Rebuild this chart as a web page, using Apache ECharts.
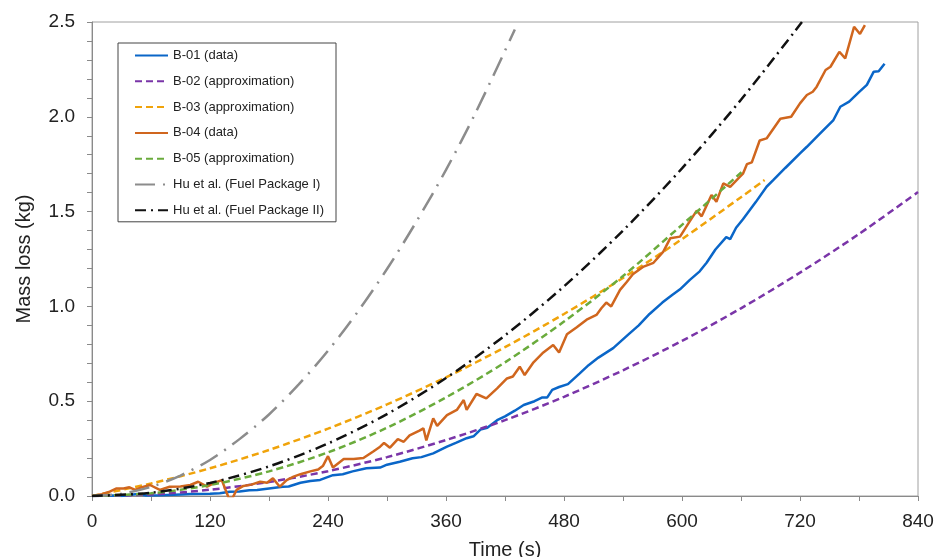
<!DOCTYPE html>
<html lang="en">
<head>
    <meta charset="UTF-8">
    <title>Mass loss</title>
    <style type="text/css">
        html, body { margin: 0; padding: 0; background: #fff; }
        #chart { width: 936px; height: 557px; }
    </style>
    <script src="https://cdn.jsdelivr.net/npm/echarts@6/dist/echarts.min.js"></script>
</head>
<body>
<div id="chart"></div>
<script type="application/javascript">
    // [time (s), mass loss (kg)]
    var b01 = [[0,0],[20,0.002],[30,0],[40,0.006],[46,0.01],[55,0.003],[70,0.004],[90,0.008],[100,0.01],
        [120,0.012],[130,0.015],[140,0.022],[150,0.024],[160,0.03],[168,0.032],[180,0.04],[194,0.049],
        [200,0.05],[212,0.07],[222,0.079],[232,0.085],[245,0.11],[255,0.115],[265,0.13],[279,0.146],
        [293,0.15],[300,0.165],[313,0.181],[326,0.199],[335,0.205],[347,0.225],[361,0.26],[370,0.28],
        [381,0.305],[388,0.315],[395,0.35],[402,0.36],[412,0.4],[420,0.42],[430,0.45],[439,0.48],
        [450,0.5],[458,0.52],[463,0.52],[468,0.56],[475,0.575],[484,0.59],[496,0.647],[505,0.69],
        [515,0.73],[530,0.78],[545,0.85],[556,0.9],[567,0.96],[580,1.02],[590,1.06],[598,1.09],
        [608,1.14],[618,1.185],[625,1.23],[634,1.3],[645,1.365],[649,1.355],[655,1.415],[662,1.46],
        [675,1.55],[686,1.631],[693,1.667],[705,1.73],[720,1.807],[727,1.842],[740,1.91],[754,1.983],
        [761,2.053],[770,2.08],[780,2.13],[788,2.168],[795,2.238],[800,2.24],[806,2.28]];

    var b02 = [[0,0],[60,0.008],[120,0.033],[180,0.074],[240,0.131],[300,0.205],[360,0.295],[420,0.4],
        [480,0.523],[540,0.663],[600,0.818],[660,0.99],[720,1.178],[780,1.382],[840,1.603]];

    var b03 = [[0,0],[60,0.066],[120,0.146],[180,0.243],[240,0.355],[300,0.483],[360,0.626],[420,0.785],
        [480,0.96],[540,1.15],[600,1.355],[660,1.576],[684,1.667]];

    var b04 = [[0,0],[10,0.01],[18,0.023],[25,0.04],[32,0.04],[38,0.046],[44,0.032],[50,0.045],[59,0.058],
        [69,0.032],[79,0.049],[90,0.05],[100,0.058],[108,0.075],[117,0.049],[125,0.07],[132,0.084],
        [136,0.03],[139,-0.01],[143,-0.01],[147,0.032],[154,0.053],[162,0.06],[171,0.075],[178,0.07],
        [184,0.093],[191,0.049],[198,0.084],[205,0.102],[212,0.115],[222,0.13],[230,0.14],[235,0.16],
        [240,0.21],[245,0.15],[256,0.195],[266,0.195],[276,0.2],[286,0.235],[293,0.26],[297,0.28],
        [303,0.255],[311,0.3],[317,0.286],[323,0.32],[333,0.345],[337,0.357],[340,0.293],[347,0.41],
        [351,0.37],[361,0.427],[371,0.454],[378,0.506],[381,0.454],[391,0.538],[401,0.515],[412,0.568],
        [422,0.62],[428,0.63],[435,0.682],[440,0.638],[449,0.705],[459,0.757],[469,0.796],[475,0.757],
        [483,0.853],[493,0.89],[503,0.93],[513,0.955],[518,0.99],[523,1.02],[528,1.0],[537,1.087],
        [544,1.13],[550,1.17],[561,1.21],[571,1.23],[581,1.289],[588,1.359],[598,1.368],[608,1.45],
        [615,1.505],[620,1.475],[630,1.588],[635,1.552],[642,1.649],[649,1.631],[659,1.684],[662,1.7],
        [666,1.75],[671,1.76],[679,1.875],[686,1.886],[700,1.99],[711,2.0],[720,2.071],[727,2.115],
        [733,2.132],[737,2.159],[746,2.247],[751,2.264],[760,2.343],[766,2.308],[775,2.475],[781,2.437],
        [786,2.484]];

    var b05 = [[0,0],[60,0.014],[120,0.058],[180,0.13],[240,0.23],[300,0.36],[360,0.52],[420,0.705],
        [480,0.92],[540,1.16],[600,1.43],[661,1.71]];

    var huI = [[0,0],[30,0.012],[60,0.048],[90,0.108],[120,0.19],[150,0.3],[180,0.43],[210,0.587],
        [240,0.766],[270,0.97],[300,1.197],[330,1.448],[360,1.72],[390,2.02],[430,2.46]];

    var huII = [[0,0],[60,0.017],[120,0.069],[180,0.156],[240,0.277],[300,0.432],[360,0.622],[420,0.847],
        [480,1.106],[540,1.4],[600,1.728],[660,2.09],[722,2.5]];

    var xTicks = [0, 120, 240, 360, 480, 600, 720, 840];
    var yTicks = [0, 0.5, 1.0, 1.5, 2.0, 2.5];

    var font = 'Liberation Sans, Arial, sans-serif';
    var axisGray = '#8a8a8a';

    function line(name, data, color, type, smooth) {
        return {
            name: name,
            type: 'line',
            data: data,
            symbol: 'none',
            smooth: smooth,
            lineStyle: { color: color, width: 2.5, type: type },
            itemStyle: { color: color },
            z: 2
        };
    }

    var chart = echarts.init(document.getElementById('chart'));
    var option = {
        animation: false,
        backgroundColor: '#fff',
        grid: {
            left: 92, right: 18, top: 22, bottom: 61,
            outerBoundsMode: 'none',
            containLabel: false,
            show: true, borderColor: '#a0a0a0', borderWidth: 1
        },
        legend: {
            orient: 'vertical',
            left: 118, top: 43,
            itemWidth: 33, itemHeight: 14, itemGap: 12.8,
            padding: [6, 12, 5, 16],
            borderColor: '#444', borderWidth: 1,
            backgroundColor: '#fff',
            itemStyle: { opacity: 0 },
            textStyle: { fontFamily: font, fontSize: 13, color: '#222' },
            data: ['B-01 (data)', 'B-02 (approximation)', 'B-03 (approximation)', 'B-04 (data)',
                'B-05 (approximation)', 'Hu et al. (Fuel Package I)', 'Hu et al. (Fuel Package II)']
        },
        xAxis: {
            type: 'value',
            min: xTicks[0], max: xTicks[xTicks.length - 1], interval: 120,
            name: 'Time (s)', nameLocation: 'middle', nameGap: 44,
            nameTextStyle: { fontFamily: font, fontSize: 20, color: '#222' },
            axisLine: { lineStyle: { color: axisGray } },
            axisTick: { show: true, length: 5, lineStyle: { color: axisGray } },
            minorTick: { show: true, splitNumber: 2, length: 5, lineStyle: { color: axisGray } },
            splitLine: { show: false },
            axisLabel: { fontFamily: font, fontSize: 19, color: '#222', margin: 16 }
        },
        yAxis: {
            type: 'value',
            min: yTicks[0], max: yTicks[yTicks.length - 1], interval: 0.5,
            name: 'Mass loss (kg)', nameLocation: 'middle', nameGap: 58,
            nameTextStyle: { fontFamily: font, fontSize: 20, color: '#222' },
            axisLine: { show: true, lineStyle: { color: axisGray } },
            axisTick: { show: true, length: 5, lineStyle: { color: axisGray } },
            minorTick: { show: true, splitNumber: 5, length: 5, lineStyle: { color: axisGray } },
            splitLine: { show: false },
            axisLabel: {
                fontFamily: font, fontSize: 19, color: '#222', margin: 17,
                formatter: function (v) { return v.toFixed(1); }
            }
        },
        series: [
            line('B-01 (data)', b01, '#0a66c8', 'solid', false),
            line('B-02 (approximation)', b02, '#7a35a8', [7, 4], 0.3),
            line('B-03 (approximation)', b03, '#f0a30a', [7, 4], 0.3),
            line('B-04 (data)', b04, '#d0661e', 'solid', false),
            line('B-05 (approximation)', b05, '#6aab3c', [7, 4], 0.3),
            line('Hu et al. (Fuel Package I)', huI, '#8c8c8c', [20, 8, 2, 8], 0.3),
            line('Hu et al. (Fuel Package II)', huII, '#111111', [11, 5, 2, 5], 0.3)
        ]
    };
    chart.setOption(option);
</script>
</body>
</html>
